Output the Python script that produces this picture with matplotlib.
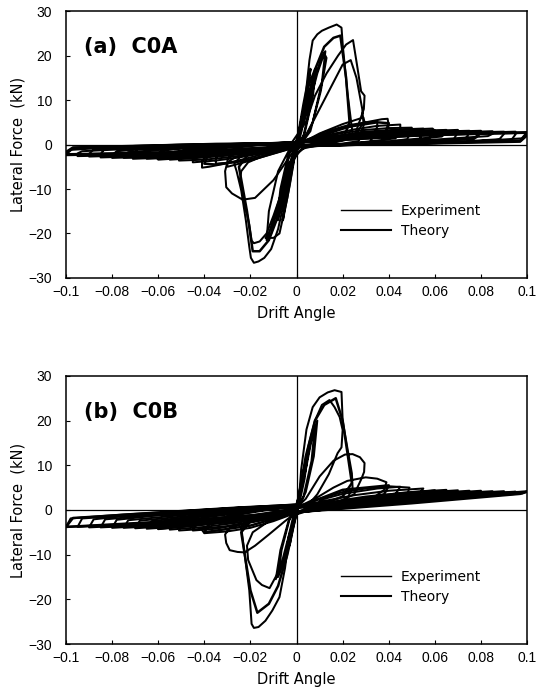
import matplotlib
matplotlib.use("Agg")
import matplotlib.pyplot as plt
from matplotlib.lines import Line2D

plt.rcParams['font.family'] = ['DejaVu Sans']

# ---------------- tick labels ----------------
x_ticks = [-0.1, -0.08, -0.06, -0.04, -0.02, 0, 0.02, 0.04, 0.06, 0.08, 0.1]
x_tick_labels = ['\u22120.1', '\u22120.08', '\u22120.06', '\u22120.04', '\u22120.02', '0',
                 '0.02', '0.04', '0.06', '0.08', '0.1']
y_ticks = [-30, -20, -10, 0, 10, 20, 30]
y_tick_labels = ['\u221230', '\u221220', '\u221210', '0', '10', '20', '30']
panel_titles = ['(a)  C0A', '(b)  C0B']
legend_labels = ['Experiment', 'Theory']

# ---------------- panel (a) experiment ----------------
exp_a_small_x = [0, 0.0015, 0.003, 0.002, 0.0005, -0.0015, -0.003, -0.002, -0.0005, 0.002, 0.005, 0.0035, 0.001,
                 -0.002, -0.005, -0.0035, -0.001, 0.003, 0.006, 0.008, 0.0065, 0.003, 0, -0.003, -0.006, -0.008,
                 -0.0065, -0.003, 0, 0.004, 0.007, 0.0085, 0.007, 0.0035, 0, -0.004, -0.007, -0.0085, -0.007,
                 -0.0035, 0, 0.004, 0.008, 0.011, 0.0125, 0.011, 0.007, 0.002, -0.003, -0.008, -0.011, -0.013,
                 -0.012, -0.008, -0.003, 0, 0.005, 0.009, 0.012, 0.013, 0.0105, 0.006, 0.001, -0.004, -0.009,
                 -0.012, -0.0135, -0.010, -0.0074, -0.004, -0.001, 0]
exp_a_small_y = [0, 4, 8, 4.5, 0.5, -4, -8, -4.5, -0.5, 5, 12, 6, 0.5,
                 -5, -12, -6, -0.5, 6, 13, 17, 10, 2, -1, -6, -13, -17,
                 -10, -2, 0.5, 7, 14, 17.5, 10.5, 2.5, -1, -7, -14, -17, -10,
                 -2, 0.5, 7, 15, 20, 21, 14, 5, 0, -4, -14, -20, -21.5,
                 -15, -6, -1, 0.3, 8, 16, 20.5, 19.5, 12, 3, -0.5, -6, -15,
                 -20, -21, -21, -20, -12, -3, 0.3]

exp_a_peak_x = [0.002, 0.0035, 0.0056, 0.007, 0.009, 0.011, 0.014, 0.0174, 0.0195, 0.0201, 0.022, 0.0243, 0.021,
                0.015, 0.008, 0.002,
                -0.002, -0.005, -0.008, -0.011, -0.014, -0.0165, -0.0185, -0.0198, -0.0205, -0.022, -0.024,
                -0.026, -0.027, -0.024, -0.016, -0.008, -0.002,
                0.004, 0.008, 0.013, 0.018, 0.0215, 0.0245, 0.0262, 0.028, 0.0295, 0.0292, 0.0282, 0.0255,
                0.02, 0.012, 0.004,
                -0.002, -0.006, -0.010, -0.013, -0.016, -0.0185, -0.0195, -0.0205, -0.0225, -0.0234, -0.0245,
                -0.024, -0.021, -0.012, -0.004, 0.002,
                0.004, 0.010, 0.016, 0.020, 0.0235, 0.026, 0.0285, 0.029, 0.0255, 0.018, 0.008, 0.0,
                -0.01, -0.018, -0.0234, -0.028, -0.0305, -0.031, -0.030, -0.027, -0.018, -0.008, 0]
exp_a_peak_y = [3, 9, 19, 23.4, 24.8, 25.6, 26.3, 27, 26.3, 22, 12, 2.5, 1,
                0.3, -0.3, -1,
                -4, -12, -19, -23.5, -25.5, -26.3, -26.6, -25.5, -23, -17, -10.3,
                -6, -4.3, -2.5, -1.3, -0.5, 0.5,
                5, 11, 16, 20, 22.5, 23.5, 18, 12, 11, 8, 6.5, 2.5,
                1.2, 0.5, -0.5,
                -3, -10, -16, -20, -21.8, -22.2, -21.6, -18, -13, -11, -8,
                -6, -4, -2, -0.5, 0.5,
                2, 8, 14, 18, 19, 15, 8, 5, 2, 1, 0.3, -0.5,
                -8, -12, -12.4, -11, -9.6, -6, -4, -3, -1.5, -0.5, 0.3]

exp_a_large_x = [0.002, 0.01, 0.02, 0.026, 0.029, 0.0295, 0.027, 0.02, 0.01, 0.0, -0.01, -0.02, -0.027, -0.030,
                 -0.030, -0.027, -0.02, -0.01, 0,
                 0.01, 0.02, 0.03, 0.037, 0.0395, 0.040, 0.037, 0.03, 0.015, 0, -0.01, -0.02, -0.03, -0.038,
                 -0.041, -0.041, -0.037, -0.025, -0.01, 0,
                 0.01, 0.02, 0.03, 0.04, 0.05, 0.05, 0.048, 0.035, 0.015, 0, -0.01, -0.02, -0.03, -0.04, -0.051,
                 -0.051, -0.049, -0.03, -0.01, 0,
                 0.01, 0.025, 0.04, 0.05, 0.059, 0.060, 0.058, 0.04, 0.02, 0, -0.015, -0.03, -0.045, -0.06,
                 -0.061, -0.059, -0.04, -0.015, 0,
                 0.015, 0.03, 0.045, 0.06, 0.070, 0.070, 0.068, 0.05, 0.025, 0, -0.02, -0.04, -0.055, -0.071,
                 -0.071, -0.069, -0.05, -0.02, 0,
                 0.02, 0.04, 0.06, 0.08, 0.080, 0.078, 0.06, 0.03, 0, -0.02, -0.04, -0.06, -0.08, -0.080,
                 -0.078, -0.05, -0.02, 0,
                 0.02, 0.045, 0.07, 0.09, 0.090, 0.088, 0.06, 0.03, 0, -0.025, -0.05, -0.07, -0.09, -0.090,
                 -0.088, -0.06, -0.03, 0,
                 0.025, 0.05, 0.075, 0.1, 0.1, 0.098, 0.07, 0.035, 0, -0.025, -0.05, -0.075, -0.1, -0.1,
                 -0.098, -0.07, -0.035, 0]
exp_a_large_y = [0.3, 2.5, 4.6, 5.6, 6.1, 5.0, 0.8, 0.2, -0.2, -0.5, -2.0, -3.6, -4.6, -5.0,
                 -3.6, -0.8, -0.3, 0.1, 0.4,
                 1.8, 3.5, 5.0, 5.7, 5.8, 4.3, 0.6, 0.2, -0.1, -0.4, -1.5, -2.9, -4.2, -5.0,
                 -5.2, -3.8, -0.8, -0.3, 0.1, 0.5,
                 1.5, 2.6, 3.3, 3.7, 3.8, 3.3, 1.2, 0.3, -0.2, -0.5, -1.3, -2.2, -2.9, -3.4, -3.6,
                 -3.0, -1.2, -0.3, 0.2, 0.5,
                 1.3, 2.4, 3.1, 3.4, 3.6, 3.1, 1.5, 0.4, -0.1, -0.5, -1.4, -2.3, -2.9, -3.4,
                 -2.8, -1.4, -0.4, 0.1, 0.5,
                 1.4, 2.2, 2.8, 3.1, 3.3, 2.8, 1.0, 0.3, 0, -0.4, -1.5, -2.4, -2.9, -3.2,
                 -2.6, -1.0, -0.3, 0.1, 0.5,
                 1.5, 2.3, 2.8, 3.1, 2.6, 1.6, 0.6, 0, -0.4, -1.3, -2.1, -2.7, -3.0, -2.4,
                 -1.5, -0.4, 0.1, 0.5,
                 1.4, 2.2, 2.7, 2.9, 2.4, 1.2, 0.3, 0, -0.4, -1.3, -2.0, -2.4, -2.7, -2.1,
                 -1.1, -0.2, 0.1, 0.5,
                 1.4, 2.1, 2.5, 2.8, 2.3, 1.4, 0.5, 0, -0.4, -1.2, -1.8, -2.2, -2.4, -1.8,
                 -1.2, -0.3, 0.2, 0.4]

exp_a_repeat_x = [0.003, 0.012, 0.022, 0.03, 0.035, 0.035, 0.032, 0.02, 0, -0.012, -0.022, -0.03, -0.035, -0.035,
                  -0.032, -0.02, 0,
                  0.012, 0.025, 0.035, 0.045, 0.045, 0.043, 0.025, 0, -0.012, -0.025, -0.035, -0.045, -0.045,
                  -0.043, -0.025, 0,
                  0.012, 0.03, 0.045, 0.055, 0.055, 0.053, 0.03, 0, -0.012, -0.03, -0.045, -0.055, -0.055,
                  -0.053, -0.03, 0,
                  0.015, 0.035, 0.05, 0.065, 0.065, 0.063, 0.035, 0, -0.015, -0.035, -0.05, -0.065, -0.065,
                  -0.063, -0.035, 0,
                  0.02, 0.04, 0.06, 0.075, 0.075, 0.073, 0.04, 0, -0.02, -0.04, -0.06, -0.075, -0.075,
                  -0.073, -0.04, 0,
                  0.02, 0.045, 0.065, 0.085, 0.085, 0.083, 0.045, 0, -0.02, -0.045, -0.065, -0.085, -0.085,
                  -0.083, -0.045, 0,
                  0.025, 0.05, 0.075, 0.095, 0.095, 0.093, 0.05, 0, -0.025, -0.05, -0.075, -0.095, -0.095,
                  -0.093, -0.05, 0,
                  0.025, 0.05, 0.075, 0.1, 0.1, 0.097, 0.05, 0, -0.025, -0.05, -0.075, -0.1, -0.1,
                  -0.097, -0.05, 0]
exp_a_repeat_y = [0.4, 2.8, 4.3, 5.0, 5.2, 4.0, 0.6, 0.1, -0.4, -2.2, -3.5, -4.1, -4.3, -3.2,
                  -0.7, -0.2, 0.4,
                  2.0, 3.4, 4.2, 4.5, 3.6, 1.4, 0.3, -0.4, -1.7, -2.9, -3.6, -4.0, -3.1,
                  -1.3, -0.3, 0.4,
                  1.6, 2.9, 3.4, 3.6, 3.0, 0.9, 0.2, -0.4, -1.4, -2.5, -3.1, -3.4, -2.7,
                  -1.6, -0.4, 0.4,
                  1.6, 2.6, 3.0, 3.3, 2.7, 1.8, 0.5, -0.4, -1.5, -2.4, -2.9, -3.2, -2.5,
                  -0.9, -0.2, 0.4,
                  1.6, 2.4, 2.9, 3.1, 2.6, 1.1, 0.3, -0.3, -1.5, -2.3, -2.8, -3.0, -2.3,
                  -1.7, -0.5, 0.4,
                  1.4, 2.3, 2.7, 3.0, 2.4, 1.9, 0.6, -0.3, -1.4, -2.2, -2.6, -2.9, -2.2,
                  -0.8, -0.1, 0.4,
                  1.5, 2.2, 2.6, 2.9, 2.3, 0.9, 0.2, -0.3, -1.4, -2.0, -2.4, -2.6, -2.0,
                  -1.5, -0.4, 0.4,
                  1.2, 1.9, 2.4, 2.6, 2.0, 0.6, 0.1, -0.3, -1.0, -1.6, -2.0, -2.2, -1.6,
                  -0.6, 0, 0.3]

# ---------------- panel (a) theory ----------------
thr_a_x = [0, 0.003, 0.006, 0.003, 0, -0.003, -0.006, -0.003, 0, 0.005, 0.012, 0.016, 0.019, 0.0215, 0.023,
           0.02, 0.01, 0, -0.005, -0.012, -0.016, -0.019, -0.0215, -0.025, -0.02, -0.01, 0,
           0.02, 0.035, 0.04, 0.037, 0.02, 0, -0.02, -0.035, -0.04, -0.037, -0.02, 0,
           0.03, 0.06, 0.057, 0.03, 0, -0.03, -0.06, -0.057, -0.03, 0,
           0.04, 0.08, 0.077, 0.04, 0, -0.04, -0.08, -0.077, -0.04, 0,
           0.05, 0.1, 0.097, 0.05, 0, -0.05, -0.1, -0.097, -0.05, 0]
thr_a_y = [0, 9, 17, 6, 0, -9, -17, -6, 0, 13, 22, 24, 24.5, 15, 5,
           1, 0, -0.5, -12, -21.5, -24, -24, -15, -5, -1.5, -0.5, 0.3,
           3.8, 5, 4.8, 0.6, 0, -0.5, -3.5, -4.5, -4.3, -0.6, 0, 0.5,
           2.5, 3.2, 1.0, 0.2, -0.5, -2.3, -3.0, -1.0, -0.1, 0.5,
           2.1, 2.8, 1.3, 0.3, -0.4, -1.9, -2.6, -1.2, -0.2, 0.4,
           2.0, 2.7, 0.9, 0.2, -0.3, -1.7, -2.2, -0.8, -0.1, 0.3]

# ---------------- panel (b) experiment ----------------
exp_b_small_x = [0, 0.0015, 0.003, 0.002, 0.0005, -0.0015, -0.003, -0.002, -0.0005, 0.002, 0.005, 0.0035, 0.001,
                 -0.002, -0.005, -0.0035, -0.001, 0.003, 0.006, 0.008, 0.0065, 0.003, 0, -0.003, -0.006, -0.008,
                 -0.0065, -0.003, 0, 0.004, 0.007, 0.009, 0.0075, 0.004, 0, -0.004, -0.007, -0.009, -0.007,
                 -0.0035, 0]
exp_b_small_y = [0, 5, 9, 5, 1, -4, -8, -4.5, -0.5, 6, 13, 7, 1,
                 -5, -12, -6, -0.5, 7, 15, 19, 11, 3, 0, -6, -12.5, -15,
                 -9, -2, 0.5, 9, 17, 20, 12, 4, -0.5, -7, -13, -15.5, -9,
                 -2.5, 0.5]

exp_b_peak_x = [0.002, 0.005, 0.008, 0.011, 0.0143, 0.0165, 0.0187, 0.020, 0.0195, 0.0178, 0.014, 0.009, 0.004, 0,
                -0.002, -0.004, -0.0074, -0.0117, -0.015, -0.0174, -0.021, -0.0215, -0.019, -0.012, -0.005, 0,
                0.001, 0.002, 0.0043, 0.007, 0.010, 0.0135, 0.0165, 0.0195, 0.020, 0.022, 0.024, 0.0243,
                0.022, 0.015, 0.006, 0,
                -0.003, -0.005, -0.0074, -0.0105, -0.0135, -0.0165, -0.0185, -0.0195, -0.0205, -0.0225,
                -0.024, -0.02, -0.012, -0.004, 0,
                0.004, 0.01, 0.016, 0.021, 0.0243, 0.0275, 0.0295, 0.0293, 0.028, 0.025, 0.018, 0.01, 0,
                -0.005, -0.012, -0.018, -0.0225, -0.0256, -0.029, -0.0305, -0.031, -0.029, -0.022, -0.012, 0,
                0.008, 0.016, 0.022, 0.03, 0.035, 0.039, 0.038, 0.034, 0.025, 0.012, 0,
                -0.01, -0.02, -0.03, -0.04, -0.041, -0.037, -0.025, -0.012, 0,
                0.01, 0.02, 0.03, 0.04, 0.049, 0.048, 0.04, 0.02, 0,
                -0.015, -0.03, -0.045, -0.051, -0.05, -0.04, -0.02, 0]
exp_b_peak_y = [5, 14, 20, 23.5, 24.6, 23, 20.8, 17.9, 14, 12.7, 8, 3.5, 0.5, -1,
                -4, -9, -13.4, -17.5, -16.8, -15.7, -11.2, -8, -5, -2.5, -1, 0.5,
                2, 9, 18, 23, 25.2, 26.3, 26.8, 26.4, 20, 14, 8.2, 5,
                2.5, 1, 0, -1,
                -5.2, -13, -19.5, -22.5, -24.8, -26.2, -26.4, -25.5, -18, -10,
                -3.8, -2.5, -1.5, -0.5, 0.5,
                2.5, 7.5, 11, 12.4, 12.5, 11.8, 10.5, 8.5, 6.8, 3.5, 1.8, 0.8, -0.5,
                -2.5, -5.5, -8, -9.5, -9.4, -9, -7.4, -5.5, -4, -3, -1.8, 0.5,
                2.5, 5, 6.5, 7.3, 7, 6.2, 4.5, 3, 1.8, 0.5, -0.6,
                -2.5, -4, -4.8, -5.2, -4.5, -3, -2, -1, 0.3,
                2.5, 4, 4.8, 5.3, 5.0, 3.5, 2.3, 0.8, -0.5,
                -2.2, -3.6, -4.4, -4.6, -3.5, -2.5, -1.2, 0.3]

exp_b_large_x = [0.015, 0.03, 0.045, 0.06, 0.058, 0.045, 0.03, 0.015, 0, -0.015, -0.03, -0.045, -0.06, -0.058,
                 -0.045, -0.03, -0.015, 0,
                 0.02, 0.04, 0.055, 0.07, 0.068, 0.05, 0.03, 0.015, 0, -0.02, -0.04, -0.055, -0.07, -0.068,
                 -0.05, -0.03, -0.015, 0,
                 0.02, 0.04, 0.06, 0.08, 0.078, 0.06, 0.04, 0.02, 0, -0.02, -0.04, -0.06, -0.08, -0.078,
                 -0.06, -0.04, -0.02, 0,
                 0.025, 0.05, 0.07, 0.09, 0.088, 0.07, 0.05, 0.025, 0, -0.025, -0.05, -0.07, -0.09, -0.088,
                 -0.07, -0.05, -0.025, 0,
                 0.025, 0.05, 0.075, 0.1, 0.098, 0.075, 0.05, 0.025, 0, -0.025, -0.05, -0.075, -0.1, -0.098,
                 -0.075, -0.05, -0.025, 0]
exp_b_large_y = [1.5, 2.8, 3.8, 4.4, 3.2, 2.1, 1.1, 0.2, -0.5, -1.5, -2.7, -3.6, -4.3, -2.6,
                 -1.6, -0.7, 0.1, 0.8,
                 1.7, 3.1, 3.9, 4.4, 3.4, 2.2, 1.0, 0.2, -0.5, -1.7, -2.9, -3.6, -4.1, -2.4,
                 -1.5, -0.6, 0.2, 0.9,
                 1.5, 2.7, 3.6, 4.3, 3.5, 2.5, 1.4, 0.4, -0.5, -1.5, -2.6, -3.4, -4.0, -2.2,
                 -1.2, -0.4, 0.4, 1.0,
                 1.6, 2.8, 3.6, 4.2, 3.6, 2.7, 1.7, 0.6, -0.5, -1.6, -2.7, -3.4, -3.9, -2.1,
                 -1.1, -0.3, 0.5, 1.1,
                 1.4, 2.6, 3.5, 4.1, 3.7, 2.8, 1.8, 0.7, -0.4, -1.4, -2.4, -3.2, -3.8, -1.9,
                 -1.0, -0.2, 0.6, 1.2]

exp_b_repeat_x = [0.01, 0.02, 0.035, 0.045, 0.043, 0.03, 0.015, 0, -0.01, -0.025, -0.035, -0.045, -0.043, -0.03,
                  -0.015, 0,
                  0.012, 0.025, 0.04, 0.055, 0.053, 0.04, 0.02, 0, -0.012, -0.025, -0.04, -0.055, -0.053, -0.04,
                  -0.02, 0,
                  0.015, 0.03, 0.05, 0.065, 0.063, 0.045, 0.025, 0, -0.015, -0.03, -0.05, -0.065, -0.063, -0.045,
                  -0.025, 0,
                  0.02, 0.04, 0.06, 0.075, 0.073, 0.055, 0.03, 0, -0.02, -0.04, -0.06, -0.075, -0.073, -0.055,
                  -0.03, 0,
                  0.02, 0.045, 0.065, 0.085, 0.083, 0.065, 0.04, 0.02, 0, -0.02, -0.045, -0.065, -0.085, -0.083,
                  -0.065, -0.04, -0.02, 0,
                  0.025, 0.05, 0.075, 0.095, 0.093, 0.07, 0.045, 0.02, 0, -0.025, -0.05, -0.075, -0.095, -0.093,
                  -0.07, -0.045, -0.02, 0]
exp_b_repeat_y = [2.2, 3.6, 4.8, 5.2, 3.6, 2.0, 0.6, -0.6, -1.8, -3.3, -4.2, -4.6, -2.8, -1.5,
                  -0.2, 0.8,
                  2.0, 3.3, 4.3, 4.8, 3.5, 2.3, 0.8, -0.6, -1.6, -2.8, -3.8, -4.4, -2.7, -1.7,
                  -0.4, 0.9,
                  1.8, 3.0, 4.0, 4.5, 3.4, 2.2, 0.9, -0.6, -1.6, -2.7, -3.7, -4.2, -2.5, -1.5,
                  -0.5, 1.0,
                  1.8, 2.9, 3.8, 4.3, 3.5, 2.4, 1.0, -0.5, -1.7, -2.8, -3.6, -4.0, -2.3, -1.4,
                  -0.4, 1.0,
                  1.5, 2.8, 3.6, 4.2, 3.6, 2.6, 1.4, 0.5, -0.4, -1.5, -2.7, -3.4, -3.9, -2.1,
                  -1.3, -0.5, 0.3, 1.1,
                  1.5, 2.7, 3.5, 4.1, 3.7, 2.7, 1.6, 0.5, -0.4, -1.5, -2.6, -3.3, -3.8, -1.9,
                  -1.1, -0.4, 0.4, 1.2]

# ---------------- panel (b) theory ----------------
thr_b_x = [0, 0.004, 0.008, 0.012, 0.017, 0.02, 0.024, 0.02, 0.01, 0, -0.004, -0.008, -0.012, -0.017, -0.02,
           -0.024, -0.02, -0.01, 0,
           0.02, 0.04, 0.038, 0.02, 0, -0.02, -0.04, -0.038, -0.02, 0,
           0.03, 0.06, 0.057, 0.03, 0, -0.03, -0.06, -0.057, -0.03, 0,
           0.05, 0.1, 0.097, 0.05, 0, -0.05, -0.1, -0.097, -0.05, 0]
thr_b_y = [0, 12, 20, 23.5, 25, 20, 6, 3, 1, -0.5, -10, -17, -21, -23, -18,
           -5, -2.5, -1, 0.5,
           4.5, 5.5, 3.5, 1.3, -0.5, -3.5, -5, -3.2, -1.5, 0.4,
           2.5, 4.3, 3.2, 1.2, -0.6, -2.6, -4.2, -2.6, -0.6, 0.7,
           2.6, 4.1, 3.6, 1.5, -0.5, -2.4, -3.8, -1.8, -0.3, 1.2]

panels = [
    dict(title=panel_titles[0],
         exp=[(exp_a_small_x, exp_a_small_y), (exp_a_peak_x, exp_a_peak_y),
              (exp_a_large_x, exp_a_large_y), (exp_a_repeat_x, exp_a_repeat_y)],
         thr=(thr_a_x, thr_a_y), leg_y=0.325),
    dict(title=panel_titles[1],
         exp=[(exp_b_small_x, exp_b_small_y), (exp_b_peak_x, exp_b_peak_y),
              (exp_b_large_x, exp_b_large_y), (exp_b_repeat_x, exp_b_repeat_y)],
         thr=(thr_b_x, thr_b_y), leg_y=0.323),
]

fig = plt.figure(figsize=(5.38, 7.0), dpi=100)
axes_rects = [[0.1227, 0.603, 0.857, 0.381], [0.1227, 0.080, 0.857, 0.383]]

for rect, p in zip(axes_rects, panels):
    ax = fig.add_axes(rect)
    ax.axhline(0, color='black', lw=0.9, zorder=1)
    ax.axvline(0, color='black', lw=0.9, zorder=1)
    for xs, ys in p['exp']:
        ax.plot(xs, ys, color='black', lw=1.45, solid_joinstyle='round', zorder=2)
    ax.plot(p['thr'][0], p['thr'][1], color='black', lw=1.8, solid_joinstyle='round', zorder=3)
    ax.set_xlim(-0.1, 0.1)
    ax.set_ylim(-30, 30)
    ax.set_xticks(x_ticks)
    ax.set_xticklabels(x_tick_labels, fontfamily='Liberation Sans')
    ax.set_yticks(y_ticks)
    ax.set_yticklabels(y_tick_labels, fontfamily='Liberation Sans')
    ax.tick_params(direction='in', length=3, width=0.8, labelsize=10)
    ax.tick_params(axis='x', pad=5)
    ax.tick_params(axis='y', pad=10)
    for s in ax.spines.values():
        s.set_linewidth(1.1)
    ax.set_xlabel('Drift Angle', fontsize=10.5, labelpad=5)
    ax.set_ylabel('Lateral Force  (kN)', fontsize=10.5, labelpad=2)
    ax.text(0.04, 0.865, p['title'], transform=ax.transAxes, fontsize=15,
            fontweight='bold', ha='left', va='center')
    handles = [Line2D([], [], color='black', lw=1.0), Line2D([], [], color='black', lw=1.5)]
    ax.legend(handles, legend_labels, loc='upper left', bbox_to_anchor=(0.57, p['leg_y']), frameon=False,
              fontsize=10, handlelength=3.6, handletextpad=0.7, labelspacing=0.45)

fig.savefig('out.png', dpi=100)
